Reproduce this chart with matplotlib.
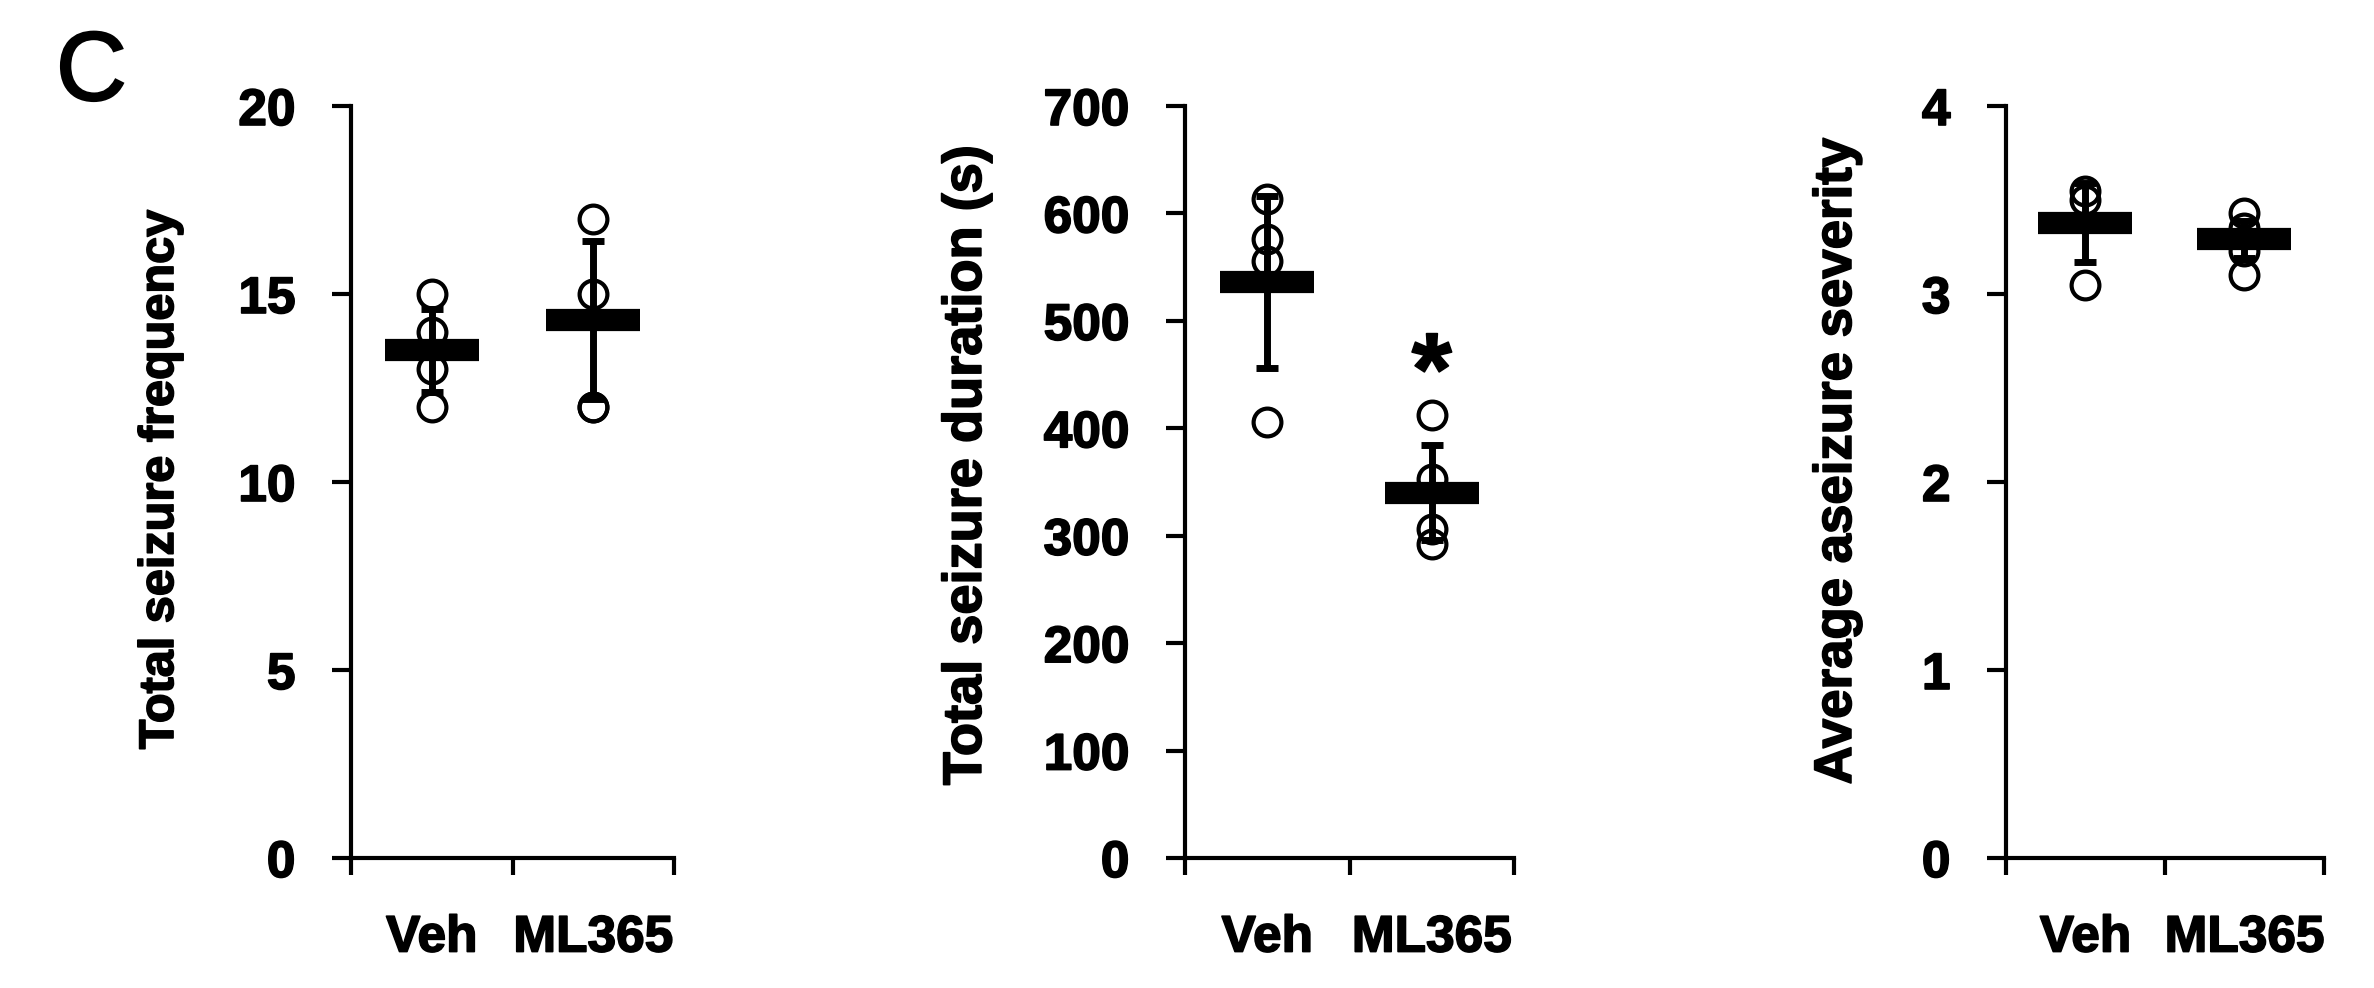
import matplotlib
matplotlib.use("Agg")
import matplotlib.pyplot as plt
import matplotlib.patheffects as pe
from matplotlib.textpath import TextPath
from matplotlib.patches import PathPatch
from matplotlib.font_manager import FontProperties
from matplotlib.transforms import Affine2D, IdentityTransform

plt.rcParams['font.family'] = ['Liberation Sans', 'DejaVu Sans']

groups = ["Veh", "ML365"]

# total seizure frequency
freq_points = [[15, 14, 13, 12], [17, 15, 12, 12]]
freq_mean = [13.5, 14.3]
freq_err = [1.1, 2.1]

# total seizure duration (s)
dur_points = [[613, 576, 556, 406], [412, 353, 306, 292]]
dur_mean = [536, 340]
dur_err = [80, 44]
dur_star = [None, 474]

# average seizure severity
sev_points = [[3.55, 3.5, 3.05], [3.43, 3.35, 3.23, 3.1]]
sev_mean = [3.38, 3.29]
sev_err = [0.21, 0.1]

panels = [
    dict(points=freq_points, mean=freq_mean, err=freq_err, star=[None, None],
         ylim=20, yticks=[0, 5, 10, 15, 20], ylabel="Total seizure frequency",
         rect=[351, 674], lab=(-0.52, 0.503), labsize=35),
    dict(points=dur_points, mean=dur_mean, err=dur_err, star=dur_star,
         ylim=700, yticks=[0, 100, 200, 300, 400, 500, 600, 700],
         ylabel="Total seizure duration (s)",
         rect=[1185, 1514], lab=(-0.587, 0.522), labsize=39),
    dict(points=sev_points, mean=sev_mean, err=sev_err, star=[None, None],
         ylim=4, yticks=[0, 1, 2, 3, 4], ylabel="Average aseizure severity",
         rect=[2006, 2324], lab=(-0.453, 0.527), labsize=38),
]

heavy = [pe.Stroke(linewidth=1.2, foreground='black'), pe.Normal()]

W, H = 2374, 988
fig = plt.figure(figsize=(W / 100, H / 100), dpi=100)

top_px, bot_px = 106, 858
for p in panels:
    x0, x1 = p["rect"]
    ax = fig.add_axes([x0 / W, 1 - bot_px / H, (x1 - x0) / W, (bot_px - top_px) / H])
    xs = [0.5, 1.5]
    for i, pts in enumerate(p["points"]):
        ax.plot([xs[i]] * len(pts), pts, 'o', ms=20, mfc='none', mec='black',
                mew=3, zorder=3, clip_on=False)
    ax.errorbar(xs, p["mean"], yerr=p["err"], fmt='none', ecolor='black',
                elinewidth=5, capsize=8, capthick=5, zorder=2)
    ax.plot(xs, p["mean"], '_', ms=67, mew=16, color='black', zorder=4)
    for i, s in enumerate(p["star"]):
        if s is not None:
            ax.annotate("*", xy=(xs[i], s), xytext=(0, -40),
                        textcoords='offset points', ha='center', va='baseline',
                        fontsize=74, fontweight='bold', path_effects=heavy)
    ax.set_xlim(0, 2)
    ax.set_ylim(0, p["ylim"])
    ax.set_yticks(p["yticks"])
    ax.set_xticks(xs)
    ax.set_xticklabels(groups)
    ax.set_xticks([0, 1, 2], minor=True)
    ax.tick_params(axis='x', which='major', length=0, pad=40, labelsize=37)
    ax.tick_params(axis='x', which='minor', length=12, width=3, direction='out')
    ax.tick_params(axis='y', length=14, width=3, direction='out', pad=26,
                   labelsize=37)
    for lab in ax.get_xticklabels() + ax.get_yticklabels():
        lab.set_fontweight('bold')
        lab.set_path_effects(heavy)
    for sp in ["top", "right"]:
        ax.spines[sp].set_visible(False)
    for sp in ["left", "bottom"]:
        ax.spines[sp].set_linewidth(3)
    ax.set_ylabel(p["ylabel"], fontsize=p["labsize"], fontweight='bold',
                  path_effects=heavy)
    ax.yaxis.set_label_coords(*p["lab"])

# panel letter
em = 98.0
cpath = TextPath((0, 0), "C", size=em, prop=FontProperties(family='Liberation Sans'))
tr = Affine2D().translate(56, H - 65 - 0.358 * em)
fig.patches.append(PathPatch(tr.transform_path(cpath), facecolor='black',
                             edgecolor='black', lw=1.5,
                             transform=IdentityTransform(), figure=fig))

fig.savefig("out.png", dpi=100)
